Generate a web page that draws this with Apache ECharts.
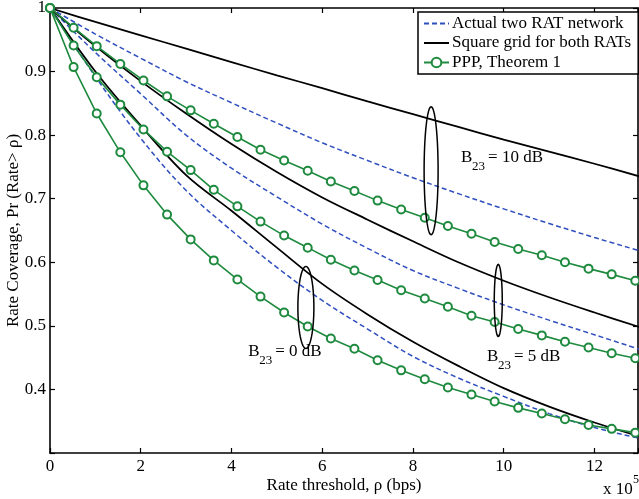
<!DOCTYPE html>
<html>
<head>
<meta charset="utf-8">
<script src="https://cdn.jsdelivr.net/npm/echarts@6/dist/echarts.min.js"></script>
<style>
  html, body { margin: 0; padding: 0; background: #fff; }
  #chart { width: 639px; height: 499px; }
</style>
</head>
<body>
<div id="chart"></div>
<script>
// Rate threshold samples, in units of 10^5 bps
const pppRates = [0, 0.52, 1.03, 1.55, 2.06, 2.58, 3.1, 3.61, 4.13, 4.64, 5.16, 5.68, 6.19,
                  6.71, 7.22, 7.74, 8.26, 8.77, 9.29, 9.8, 10.32, 10.84, 11.35, 11.87, 12.38, 12.9];
const curveRates = [0, 1, 2, 3, 4, 5, 6, 7, 8, 9, 10, 11, 12, 13];

// PPP analysis (Theorem 1)
const ppp10 = [1, 0.969, 0.940, 0.912, 0.886, 0.861, 0.839, 0.818, 0.797, 0.777, 0.760, 0.744, 0.727,
               0.712, 0.697, 0.683, 0.670, 0.657, 0.645, 0.632, 0.621, 0.611, 0.600, 0.590, 0.581, 0.571];
const ppp5  = [1, 0.941, 0.891, 0.848, 0.809, 0.774, 0.745, 0.714, 0.688, 0.664, 0.642, 0.623, 0.604,
               0.587, 0.572, 0.556, 0.543, 0.530, 0.516, 0.506, 0.495, 0.485, 0.475, 0.466, 0.457, 0.449];
const ppp0  = [1, 0.907, 0.834, 0.773, 0.721, 0.675, 0.636, 0.603, 0.573, 0.546, 0.521, 0.499, 0.480,
               0.464, 0.446, 0.430, 0.416, 0.403, 0.392, 0.381, 0.371, 0.362, 0.353, 0.344, 0.338, 0.332];

// Square grid deployment for both RATs
const grid10 = [1, 0.978, 0.957, 0.936, 0.915, 0.894, 0.874, 0.853, 0.833, 0.813, 0.793, 0.774, 0.755, 0.735];
const grid5  = [1, 0.940, 0.885, 0.834, 0.786, 0.742, 0.702, 0.667, 0.633, 0.600, 0.571, 0.545, 0.521, 0.498];
const grid0  = [1, 0.900, 0.815, 0.737, 0.681, 0.623, 0.566, 0.518, 0.475, 0.437, 0.402, 0.373, 0.348, 0.326];

// Actual two RAT network
const actual10 = [1, 0.959, 0.921, 0.884, 0.851, 0.819, 0.788, 0.760, 0.733, 0.708, 0.684, 0.661, 0.639, 0.618];
const actual5  = [1, 0.930, 0.865, 0.800, 0.748, 0.703, 0.660, 0.622, 0.587, 0.559, 0.533, 0.509, 0.486, 0.463];
const actual0  = [1, 0.892, 0.795, 0.713, 0.650, 0.592, 0.540, 0.495, 0.452, 0.418, 0.389, 0.362, 0.340, 0.323];

const xTicks = [0, 2, 4, 6, 8, 10, 12];
const yTicks = [0.4, 0.5, 0.6, 0.7, 0.8, 0.9, 1];

const NAME_ACTUAL = 'Actual two RAT network';
const NAME_GRID = 'Square grid for both RATs';
const NAME_PPP = 'PPP, Theorem 1';

// Bias groups: bracket ellipse (x, y centre, half height in y units, half width in px) and label
const biasGroups = [
  { label: '10', ellipse: [8.40, 0.744, 0.1007, 7], text: [9.06, 0.765] },
  { label: '5',  ellipse: [9.88, 0.540, 0.0567, 4], text: [9.63, 0.451] },
  { label: '0',  ellipse: [5.64, 0.529, 0.0645, 8], text: [4.37, 0.459] }
];

const SERIF = '"Liberation Serif", "Times New Roman", serif';
const BLUE = '#2f4fbf';
const GREEN = '#1e8a3e';

const zip = (xs, ys) => xs.map((x, i) => [x, ys[i]]);

function actualSeries(values) {
  return {
    name: NAME_ACTUAL, type: 'line', data: zip(curveRates, values), smooth: 0.35,
    showSymbol: false, symbol: 'none',
    lineStyle: { color: BLUE, width: 1.5, type: [5, 3] }, itemStyle: { color: BLUE },
    z: 3
  };
}
function gridSeries(values) {
  return {
    name: NAME_GRID, type: 'line', data: zip(curveRates, values), smooth: 0.35,
    showSymbol: false, symbol: 'none',
    lineStyle: { color: '#000', width: 1.8 }, itemStyle: { color: '#000' },
    z: 3
  };
}
function pppSeries(values) {
  return {
    name: NAME_PPP, type: 'line', data: zip(pppRates, values),
    symbol: 'emptyCircle', symbolSize: 8, showSymbol: true,
    lineStyle: { color: GREEN, width: 1.6 },
    itemStyle: { color: GREEN, borderColor: GREEN, borderWidth: 1.5 },
    z: 4
  };
}

function ellipsePoints(cx, cy, rx, ry) {
  const pts = [];
  for (let i = 0; i < 64; i++) {
    const a = (i / 64) * Math.PI * 2;
    pts.push([cx + rx * Math.cos(a), cy + ry * Math.sin(a)]);
  }
  return pts;
}

const annotationSeries = {
  type: 'custom',
  coordinateSystem: 'cartesian2d',
  silent: true,
  clip: false,
  z: 6,
  data: biasGroups.map((g, i) => [g.ellipse[0], g.ellipse[1], i]),
  renderItem(params, api) {
    const g = biasGroups[api.value(2)];
    const c = api.coord([g.ellipse[0], g.ellipse[1]]);
    const top = api.coord([g.ellipse[0], g.ellipse[1] + g.ellipse[2]]);
    const ry = c[1] - top[1];
    const t = api.coord(g.text);
    return {
      type: 'group',
      children: [
        {
          type: 'polygon',
          shape: { points: ellipsePoints(c[0], c[1], g.ellipse[3], ry) },
          style: { fill: 'none', stroke: '#000', lineWidth: 1.5 }
        },
        {
          type: 'text', x: t[0], y: t[1],
          style: { text: 'B', font: '17px ' + SERIF, fill: '#000', textVerticalAlign: 'middle', textAlign: 'left' }
        },
        {
          type: 'text', x: t[0] + 11, y: t[1] + 9,
          style: { text: '23', font: '13px ' + SERIF, fill: '#000', textVerticalAlign: 'middle', textAlign: 'left' }
        },
        {
          type: 'text', x: t[0] + 27, y: t[1],
          style: { text: '= ' + g.label + ' dB', font: '17px ' + SERIF, fill: '#000', textVerticalAlign: 'middle', textAlign: 'left' }
        }
      ]
    };
  }
};

const axisLineStyle = { color: '#000', width: 1.6 };
const tickStyle = { show: true, inside: true, length: 5, lineStyle: { color: '#000', width: 1.2 } };

const chart = echarts.init(document.getElementById('chart'), null, { renderer: 'canvas' });

chart.setOption({
  animation: false,
  backgroundColor: '#fff',
  textStyle: { fontFamily: SERIF },
  grid: { left: 50, top: 8, width: 588, height: 445, containLabel: false, outerBoundsMode: 'none' },
  legend: {
    data: [
      { name: NAME_ACTUAL, itemStyle: { opacity: 0 } },
      { name: NAME_GRID, itemStyle: { opacity: 0 } },
      { name: NAME_PPP }
    ],
    orient: 'vertical',
    left: 418, top: 12,
    itemWidth: 25, itemHeight: 12, itemGap: 2.5,
    padding: [3, 7, 3, 5],
    backgroundColor: '#fff',
    borderColor: '#000', borderWidth: 1.5, borderRadius: 0,
    textStyle: { fontFamily: SERIF, fontSize: 17, color: '#000', lineHeight: 17, padding: [0, 0, 0, -2] },
    selectedMode: false
  },
  xAxis: [
    {
      type: 'value', min: 0, max: 12.96, interval: 2,
      name: 'Rate threshold, ρ (bps)', nameLocation: 'middle', nameGap: 24, nameMoveOverlap: false,
      nameTextStyle: { fontFamily: SERIF, fontSize: 17, color: '#000' },
      axisLine: { show: true, onZero: false, lineStyle: axisLineStyle },
      axisTick: tickStyle,
      axisLabel: {
        fontFamily: SERIF, fontSize: 17, color: '#000', margin: 5,
        showMaxLabel: true,
        formatter: v => (xTicks.includes(Math.round(v)) ? String(Math.round(v)) : '')
      },
      splitLine: { show: false }
    },
    {
      type: 'value', min: 0, max: 12.96, interval: 2, position: 'top',
      axisLine: { show: true, onZero: false, lineStyle: axisLineStyle },
      axisTick: tickStyle, axisLabel: { show: false }, splitLine: { show: false }
    }
  ],
  yAxis: [
    {
      type: 'value', min: 0.3, max: 1, interval: 0.1,
      name: 'Rate Coverage, Pr (Rate> ρ)', nameLocation: 'middle', nameGap: 28, nameMoveOverlap: false,
      nameTextStyle: { fontFamily: SERIF, fontSize: 17, color: '#000' },
      axisLine: { show: true, onZero: false, lineStyle: axisLineStyle },
      axisTick: tickStyle,
      axisLabel: {
        fontFamily: SERIF, fontSize: 17, color: '#000', margin: 4,
        formatter: v => {
          const r = Math.round(v * 10) / 10;
          return yTicks.some(t => Math.abs(t - r) < 1e-9) ? String(r) : '';
        }
      },
      splitLine: { show: false }
    },
    {
      type: 'value', min: 0.3, max: 1, interval: 0.1, position: 'right',
      axisLine: { show: true, onZero: false, lineStyle: axisLineStyle },
      axisTick: tickStyle, axisLabel: { show: false }, splitLine: { show: false }
    }
  ],
  graphic: [
    {
      type: 'text', left: 603, top: 481,
      style: { text: 'x 10', font: '17px ' + SERIF, fill: '#000' }
    },
    {
      type: 'text', left: 633, top: 474,
      style: { text: '5', font: '12px ' + SERIF, fill: '#000' }
    }
  ],
  series: [
    actualSeries(actual10), actualSeries(actual5), actualSeries(actual0),
    gridSeries(grid10), gridSeries(grid5), gridSeries(grid0),
    pppSeries(ppp10), pppSeries(ppp5), pppSeries(ppp0),
    annotationSeries
  ]
});
</script>
</body>
</html>
